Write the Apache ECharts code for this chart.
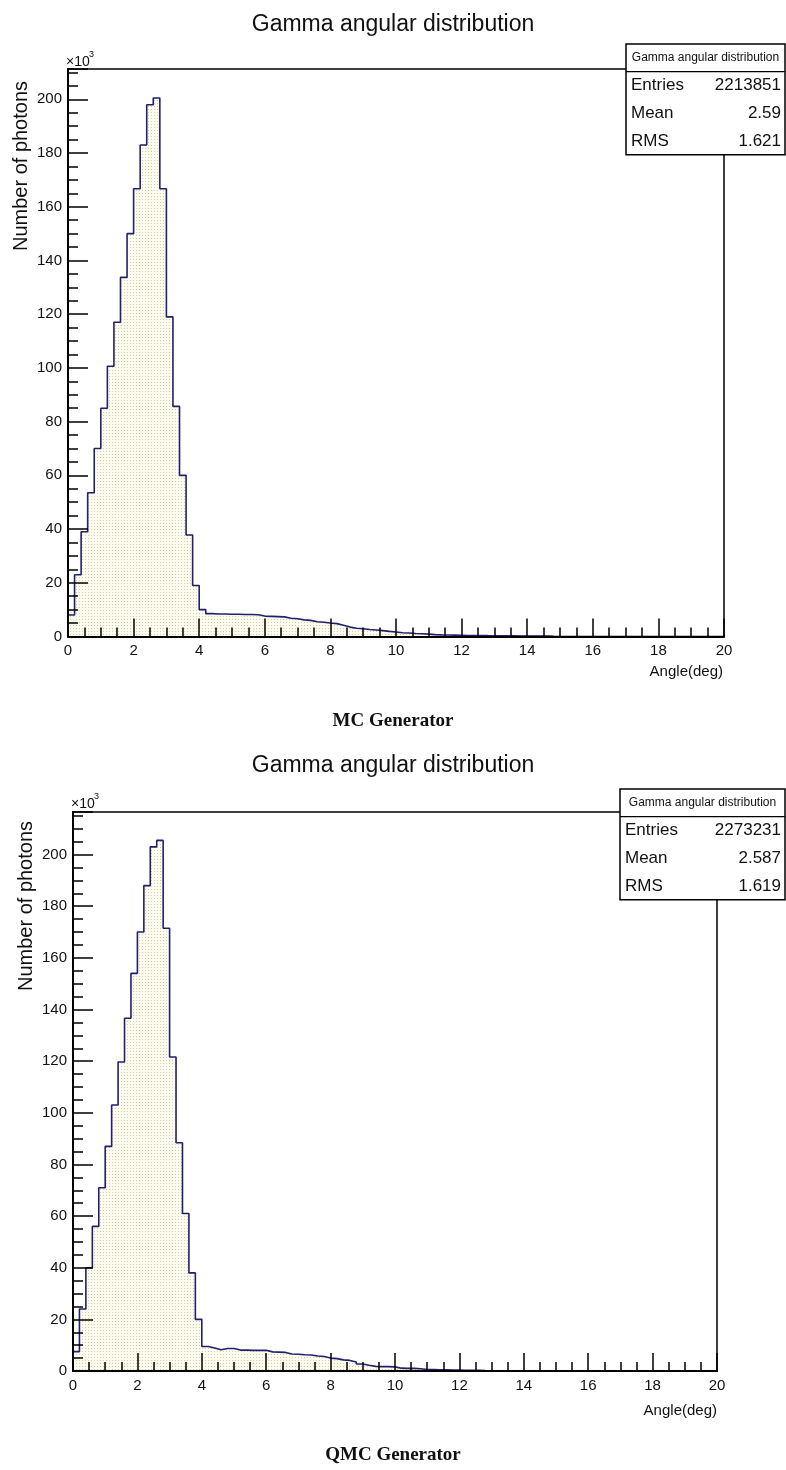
<!DOCTYPE html>
<html>
<head>
<meta charset="utf-8">
<script src="https://cdn.jsdelivr.net/npm/echarts@6/dist/echarts.min.js"></script>
<style>
  html, body { margin: 0; padding: 0; background: #fff; }
  #chart { width: 786px; height: 1470px; }
</style>
</head>
<body>
<div id="chart"></div>
<script>
// bin width of both histograms, degrees
const binWidth = 0.2
// counts per bin in units of 10^3 (bins after the last one are empty)
const mcCounts = [
  8, 23, 39, 53.5, 70, 85, 100.6, 117, 133.7, 150,
  166.7, 183, 198, 200.5, 166.7, 119, 85.7, 60, 37.8, 19,
  10, 8.5, 8.4, 8.4, 8.3, 8.3, 8.2, 8.2, 8.1, 7.6,
  7.5, 7.4, 7.3, 6.8, 6.6, 6.2, 6.0, 5.5, 5.3, 5.0,
  4.8, 4.2, 3.5, 3.1, 2.9, 2.6, 2.4, 2.2, 1.9, 1.7,
  1.4, 1.3, 1.1, 1.0, 0.9, 0.7, 0.6, 0.55, 0.5, 0.45,
  0.4, 0.38, 0.35, 0.32, 0.3, 0.28, 0.25, 0.23, 0.2, 0.18,
  0.16, 0.15, 0.13, 0.12,
]
const qmcCounts = [
  7.5, 24, 40, 56, 71, 87, 103, 119.7, 136.6, 154,
  170, 188, 203, 205.5, 171.5, 121.6, 88.4, 61, 38, 20,
  9.5, 8.9, 8.2, 8.7, 8.7, 8.1, 8.1, 8.0, 8.0, 8.0,
  7.4, 7.3, 7.2, 6.6, 6.5, 6.3, 6.2, 5.8, 5.6, 5.0,
  4.8, 4.3, 4.1, 3.5, 2.7, 2.2, 1.8, 1.7, 1.7, 1.6,
  1.1, 1.0, 1.0, 0.9, 0.6, 0.55, 0.5, 0.45, 0.4, 0.35,
  0.3, 0.28, 0.25, 0.2,
]
const mcStats = [['Entries', '2213851'], ['Mean', '2.59'], ['RMS', '1.621']]
const qmcStats = [['Entries', '2273231'], ['Mean', '2.587'], ['RMS', '1.619']]
const histTitle = 'Gamma angular distribution'
const captions = ['MC Generator', 'QMC Generator']

const FONT = 'Liberation Sans, Arial, sans-serif'
const INK = '#111'
const LINE = '#20206e'

// dotted fill like the ROOT hatch style
function makePattern() {
  let c = document.createElement('canvas')
  c.width = 3
  c.height = 3
  let ctx = c.getContext('2d')
  ctx.fillStyle = '#fdfcf1'
  ctx.fillRect(0, 0, 3, 3)
  ctx.fillStyle = '#d5cea2'
  ctx.fillRect(1, 1, 1, 1)
  return c
}
const pattern = { image: makePattern(), repeat: 'repeat' }

// histogram outline as step points on bin edges
function stepData(counts) {
  let pts = [[0, 0]]
  counts.forEach((v, i) => pts.push([+(i * binWidth).toFixed(2), v]))
  pts.push([+(counts.length * binWidth).toFixed(2), 0])
  return pts
}

function xAxisFor(gridIndex) {
  return {
    type: 'value', gridIndex: gridIndex, min: 0, max: 20, interval: 2, z: 5,
    axisLine: { show: true, onZero: false, lineStyle: { color: '#000', width: 2 } },
    axisTick: { show: true, inside: true, length: 18, lineStyle: { color: '#000', width: 1.5 } },
    minorTick: { show: true, splitNumber: 4, length: 9, lineStyle: { color: '#000', width: 1.5 } },
    axisLabel: { color: INK, fontSize: 15, fontFamily: FONT, margin: 7 },
    splitLine: { show: false },
  }
}
function yAxisFor(gridIndex, max) {
  return {
    type: 'value', gridIndex: gridIndex, min: 0, max: max, interval: 20, z: 5,
    axisLine: { show: true, lineStyle: { color: '#000', width: 2 } },
    axisTick: { show: true, inside: true, length: 20, lineStyle: { color: '#000', width: 1.5 } },
    minorTick: { show: true, splitNumber: 4, length: 10, lineStyle: { color: '#000', width: 1.5 } },
    axisLabel: { color: INK, fontSize: 15, fontFamily: FONT, margin: 6, showMaxLabel: false },
    splitLine: { show: false },
  }
}

function histSeries(idx, counts) {
  return {
    type: 'line', xAxisIndex: idx, yAxisIndex: idx, step: 'end', z: 2,
    symbol: 'none', animation: false,
    lineStyle: { color: LINE, width: 1.6 },
    areaStyle: { color: pattern, opacity: 1 },
    data: stepData(counts),
  }
}

function statsBox(x, y, w, stats) {
  let rowH = 27.7
  let els = [
    { type: 'rect', shape: { x: x, y: y, width: w, height: rowH * 4 }, style: { fill: '#fff', stroke: '#000', lineWidth: 1.5 }, z: 100 },
    { type: 'line', shape: { x1: x, y1: y + rowH, x2: x + w, y2: y + rowH }, style: { stroke: '#000', lineWidth: 1.2 }, z: 101 },
    { type: 'text', x: x + w / 2, y: y + rowH / 2, z: 101, style: { text: histTitle, font: '12px ' + FONT, fill: INK, align: 'center', verticalAlign: 'middle' } },
  ]
  stats.forEach((s, i) => {
    let cy = y + rowH * (i + 1.5)
    els.push({ type: 'text', x: x + 5, y: cy, z: 101, style: { text: s[0], font: '17px ' + FONT, fill: INK, align: 'left', verticalAlign: 'middle' } })
    els.push({ type: 'text', x: x + w - 4, y: cy, z: 101, style: { text: s[1], font: '17px ' + FONT, fill: INK, align: 'right', verticalAlign: 'middle' } })
  })
  return els
}

function label(text, x, y, font, align, rotation) {
  return { type: 'text', x: x, y: y, rotation: rotation || 0, z: 50,
    style: { text: text, font: font, fill: INK, align: align || 'center', verticalAlign: 'middle' } }
}

const grids = [
  { left: 68, top: 69, width: 656, height: 567.5 },
  { left: 73, top: 812, width: 644, height: 559 },
]
const yMax = [211.3, 216.5]

let graphic = []
graphic.push(label(histTitle, 393, 25, '23px ' + FONT))
graphic.push(label(histTitle, 393, 766, '23px ' + FONT))
graphic.push(label('\u00d710', 66, 62, '14px ' + FONT, 'left'))
graphic.push(label('3', 89, 55, '9px ' + FONT, 'left'))
graphic.push(label('\u00d710', 71, 804, '14px ' + FONT, 'left'))
graphic.push(label('3', 94, 797, '9px ' + FONT, 'left'))
graphic.push(label('Number of photons', 21, 166, '20px ' + FONT, 'center', Math.PI / 2))
graphic.push(label('Number of photons', 26, 906, '20px ' + FONT, 'center', Math.PI / 2))
graphic.push(label('Angle(deg)', 723, 672, '15px ' + FONT, 'right'))
graphic.push(label('Angle(deg)', 717, 1411, '15px ' + FONT, 'right'))
graphic.push(label(captions[0], 393, 721, 'bold 19px Liberation Serif, Times New Roman, serif'))
graphic.push(label(captions[1], 393, 1455, 'bold 19px Liberation Serif, Times New Roman, serif'))
graphic = graphic.concat(statsBox(626, 44, 159, mcStats))
graphic = graphic.concat(statsBox(620, 789, 165, qmcStats))

const chart = echarts.init(document.getElementById('chart'), null, { renderer: 'canvas' })
chart.setOption({
  backgroundColor: '#fff',
  animation: false,
  textStyle: { fontFamily: FONT },
  grid: grids.map((g) => Object.assign({ show: true, borderColor: '#000', borderWidth: 1.5, backgroundColor: 'transparent' }, g)),
  xAxis: [xAxisFor(0), xAxisFor(1)],
  yAxis: [yAxisFor(0, yMax[0]), yAxisFor(1, yMax[1])],
  series: [histSeries(0, mcCounts), histSeries(1, qmcCounts)],
  graphic: graphic,
})
</script>
</body>
</html>
